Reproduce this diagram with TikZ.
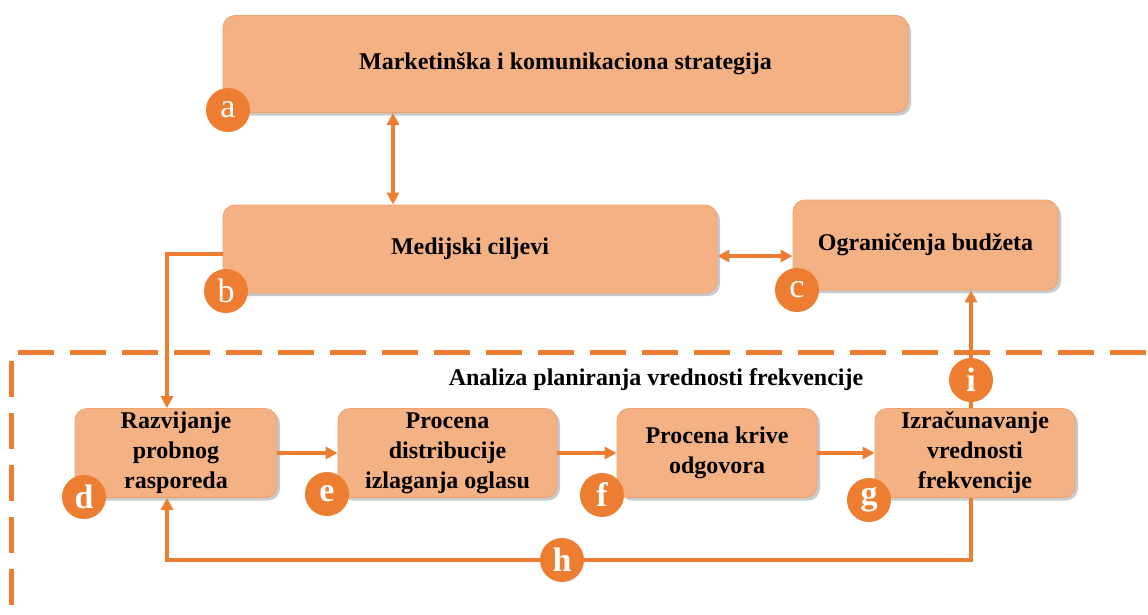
\documentclass[tikz,border=0pt]{standalone}
\usepackage{fontspec}
\setmainfont{Liberation Serif}
\usetikzlibrary{arrows.meta,shadows}
\definecolor{boxfill}{HTML}{F4B183}
\definecolor{boxedge}{HTML}{EFA06C}
\definecolor{accent}{HTML}{ED7D31}
\tikzset{
  stagebox/.style={rectangle, rounded corners=12pt, fill=boxfill, draw=boxedge, line width=0.8pt,
    drop shadow={shadow xshift=3pt, shadow yshift=-3pt, opacity=0.35, fill=black!60},
    font=\fontsize{24}{30}\selectfont\bfseries, text=black, align=center, inner sep=0pt},
  tag/.style={circle, fill=accent, minimum size=44pt, inner sep=0pt, text=white,
    font=\fontsize{34}{34}\selectfont},
  boldtag/.style={tag, font=\fontsize{34}{34}\selectfont\bfseries},
  flow/.style={draw=accent, line width=3.5pt, -{Triangle[length=12pt,width=12pt]}},
  twoway/.style={draw=accent, line width=3.5pt, {Triangle[length=12pt,width=12pt]}-{Triangle[length=12pt,width=12pt]}},
  frame/.style={draw=accent, line width=5pt, dash pattern=on 36pt off 16pt},
}
\begin{document}
\begin{tikzpicture}[x=1pt,y=-1pt]
\useasboundingbox[fill=white] (0,0) rectangle (1148,614);

% dashed frame of the analysis block
\draw[frame] (11,605) -- (11,352) -- (1148,352);
\node[font=\fontsize{24}{28}\selectfont\bfseries] (title) at (656,380) {Analiza planiranja vrednosti frekvencije};

% stages
\node[stagebox, minimum width=685pt, minimum height=97pt] (a) at (565.5,64) {Marketinška i komunikaciona strategija};
\node[stagebox, minimum width=494pt, minimum height=88pt] (b) at (470,249) {Medijski ciljevi};
\node[stagebox, minimum width=265pt, minimum height=90pt] (c) at (925.5,245) {Ograničenja budžeta};
\node[stagebox, minimum width=202pt, minimum height=89pt] (d) at (176,453) {Razvijanje\\probnog\\rasporeda};
\node[stagebox, minimum width=219pt, minimum height=89pt] (e) at (447.5,453) {Procena\\distribucije\\izlaganja oglasu};
\node[stagebox, minimum width=200pt, minimum height=89pt] (f) at (717,453) {Procena krive\\odgovora};
\node[stagebox, minimum width=200pt, minimum height=89pt] (g) at (975,453) {Izračunavanje\\vrednosti\\frekvencije};

% guide coordinates for the connectors
\coordinate (ab) at (393,0);
\coordinate (dx) at (167,0);
\coordinate (gx) at (971,0);
\coordinate (hy) at (0,560);
\coordinate (bcy) at (0,256);
\coordinate (bly) at (0,254);

% connectors
\draw[twoway] (a.south -| ab) -- (b.north -| ab);
\draw[twoway] (b.east |- bcy) -- (c.west |- bcy);
\draw[flow] (b.west |- bly) -| (d.north -| dx);
\draw[flow] (d.east) -- (e.west);
\draw[flow] (e.east) -- (f.west);
\draw[flow] (f.east) -- (g.west);
\draw[flow] (g.north -| gx) -- (c.south -| gx);
\draw[flow] (g.south -| gx) |- (hy -| dx) -- (d.south -| dx);

% letter tags
\node[tag] (ta) at (228,110) {a};
\node[tag] (tb) at (226,291) {b};
\node[tag] (tc) at (797,290) {c};
\node[boldtag] (td) at (84,497) {d};
\node[boldtag] (te) at (327,494) {e};
\node[boldtag] (tf) at (602,495) {f};
\node[boldtag] (tg) at (869,500) {g};
\node[boldtag] (th) at (562,560) {h};
\node[boldtag] (ti) at (971,380) {i};
\end{tikzpicture}
\end{document}
